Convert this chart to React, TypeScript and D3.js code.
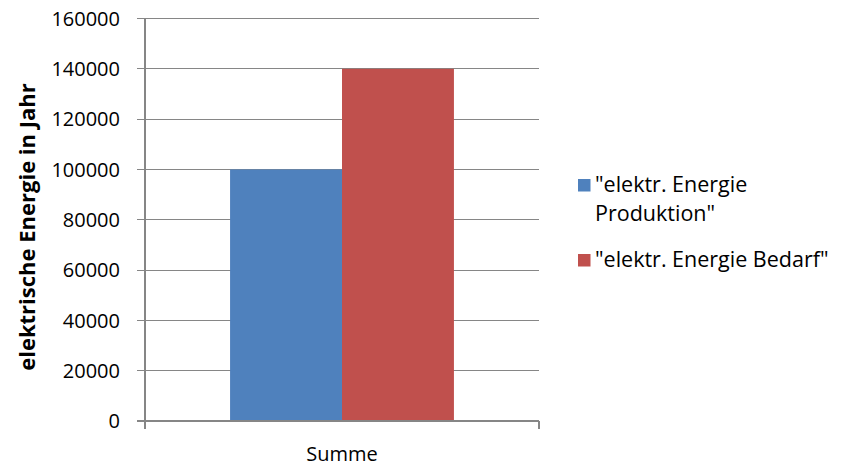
import React from "react";
import * as d3 from "d3";

const categories = ["Summe"];
const seriesNames = ['"elektr. Energie Produktion"', '"elektr. Energie Bedarf"'];
const produktion = [100000];
const bedarf = [140000];
const yTicks = [0, 20000, 40000, 60000, 80000, 100000, 120000, 140000, 160000];
const legendLines = [['"elektr. Energie', 'Produktion"'], ['"elektr. Energie Bedarf"']];
const colors = ["#4F81BD", "#C0504D"];

export default function App() {
  const W = 841, H = 466;
  const left = 145, right = 539, top = 18.5, bottom = 421;
  const font = "'Open Sans', sans-serif";
  const y = d3.scaleLinear().domain([0, 160000]).range([bottom, top]);
  const x0 = d3.scaleBand().domain(categories).range([left, right]).paddingInner(0).paddingOuter(0.38);
  const x1 = d3.scaleBand().domain(["0", "1"]).range([0, x0.bandwidth()]);
  const series = [produktion, bedarf];
  const grid = "#868686";
  return (
    <svg width={W} height={H} style={{ position: "absolute", left: 0, top: 0 }}>
      <rect width={W} height={H} fill="#fff" />
      {yTicks.map((t) => (
        <g key={t}>
          <line x1={137} x2={right} y1={y(t)} y2={y(t)} stroke={grid} strokeWidth={1} shapeRendering="crispEdges" />
          <text x={120} y={y(t)} dy="0.36em" textAnchor="end" fontFamily={font} fontSize={20} fill="#000">
            {t}
          </text>
        </g>
      ))}
      {categories.map((c, ci) =>
        series.map((s, si) => (
          <rect
            key={c + si}
            x={(x0(c) as number) + (x1(String(si)) as number)}
            y={y(s[ci])}
            width={x1.bandwidth()}
            height={bottom - y(s[ci])}
            fill={colors[si]}
          />
        ))
      )}
      <line x1={left} x2={left} y1={top} y2={429} stroke={grid} strokeWidth={1.3} shapeRendering="crispEdges" />
      <line x1={137} x2={right} y1={bottom} y2={bottom} stroke={grid} strokeWidth={1.3} shapeRendering="crispEdges" />
      <line x1={right} x2={right} y1={bottom} y2={429} stroke={grid} strokeWidth={1.3} shapeRendering="crispEdges" />
      {categories.map((c) => (
        <text key={c} x={(x0(c) as number) + x0.bandwidth() / 2} y={461} textAnchor="middle" fontFamily={font} fontSize={20} fill="#000">
          {c}
        </text>
      ))}
      <text transform="translate(35,227) rotate(-90)" textAnchor="middle" fontFamily={font} fontSize={22} fontWeight="bold" fill="#000">
        elektrische Energie in Jahr
      </text>
      {seriesNames.map((n, i) => {
        const baseY = i === 0 ? 192 : 267;
        return (
          <g key={n}>
            <rect x={578} y={baseY - 13} width={12.5} height={12.5} fill={colors[i]} />
            <text x={595} y={baseY} fontFamily={font} fontSize={21.5} fill="#000">
              {legendLines[i].map((l, li) => (
                <tspan key={li} x={595} dy={li === 0 ? 0 : 28.5}>
                  {l}
                </tspan>
              ))}
            </text>
          </g>
        );
      })}
    </svg>
  );
}
